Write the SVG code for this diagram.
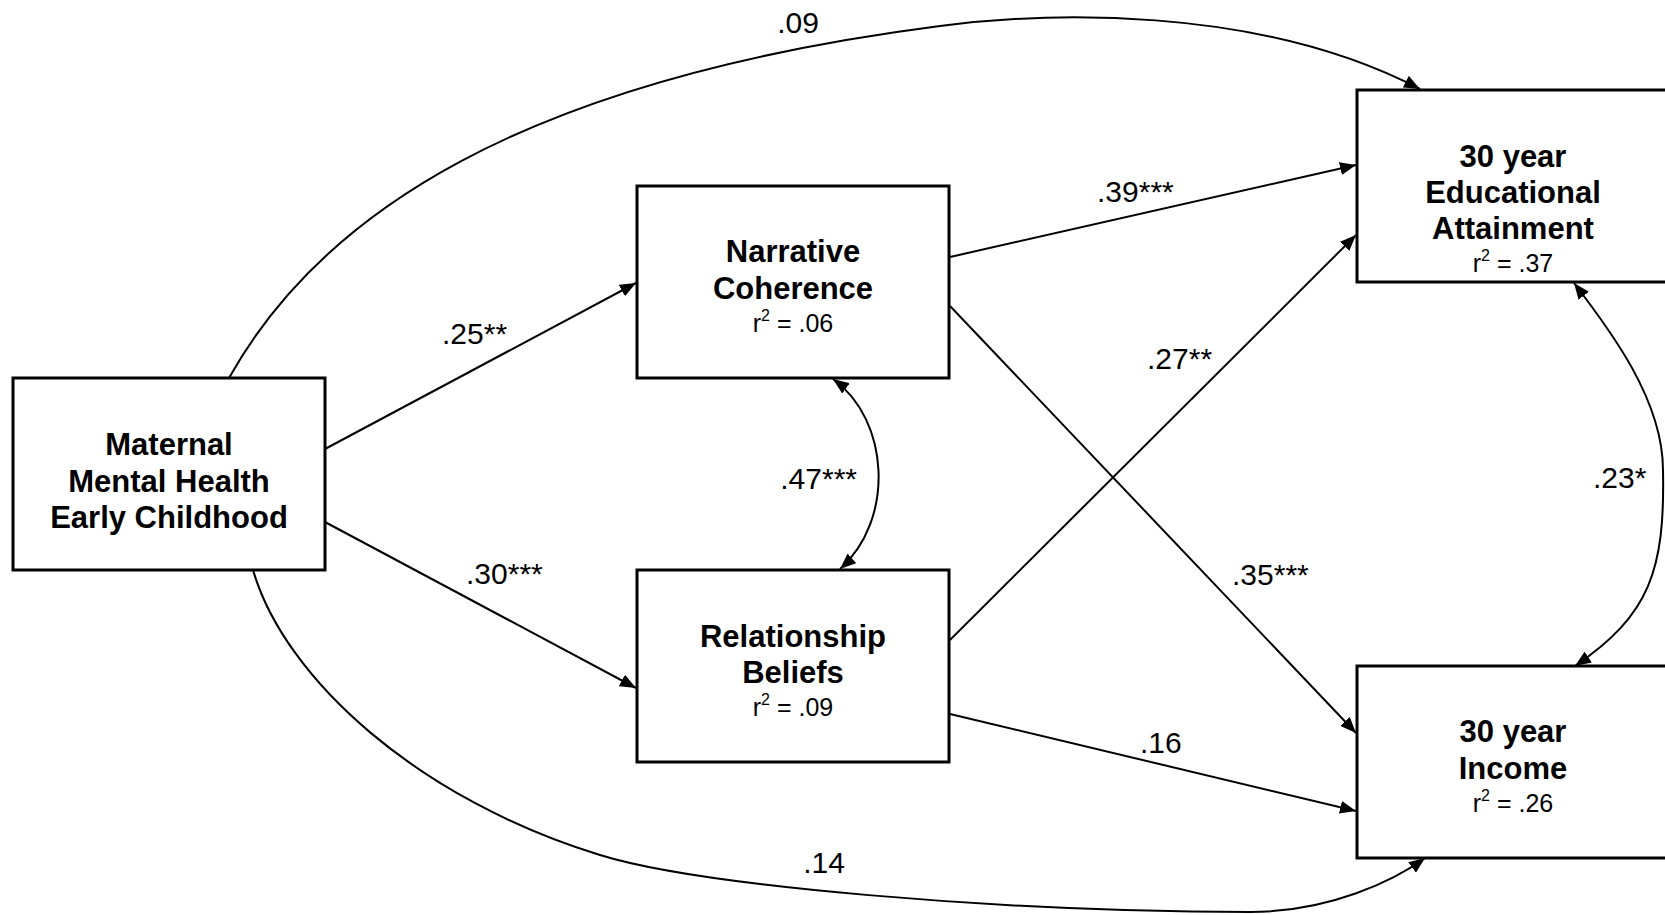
<svg xmlns="http://www.w3.org/2000/svg" width="1665" height="915" viewBox="0 0 1665 915">
<style>
.box{fill:#fff;stroke:#000;stroke-width:3}
.t{font-family:"Liberation Sans",Arial,sans-serif;font-weight:bold;font-size:31px;text-anchor:middle;fill:#000}
.r{font-family:"Liberation Sans",Arial,sans-serif;font-size:25px;text-anchor:middle;fill:#000}
.lbl{font-family:"Liberation Sans",Arial,sans-serif;font-size:30px;fill:#000}
.c{fill:none;stroke:#000;stroke-width:2}
</style>
<defs>
<marker id="ah" markerUnits="userSpaceOnUse" viewBox="0 0 16 13" refX="16" refY="6.5" markerWidth="16" markerHeight="13" orient="auto-start-reverse">
<path d="M0,0 L16,6.5 L0,13 z" fill="#000"/>
</marker>
</defs>
<rect width="1665" height="915" fill="#fff"/>
<g id="connectors">
<path class="c" d="M229,378 C320,215 520,80 940,26 C1040,13 1255,3 1420,89" marker-end="url(#ah)"/>
<path class="c" d="M253,570 C285,680 420,800 600,855 C700,886 1000,912 1250,912 C1330,912 1395,880 1425,858" marker-end="url(#ah)"/>
<line class="c" x1="325" y1="449" x2="636" y2="283" marker-end="url(#ah)"/>
<line class="c" x1="325" y1="522" x2="636" y2="688" marker-end="url(#ah)"/>
<line class="c" x1="950" y1="257" x2="1356" y2="165" marker-end="url(#ah)"/>
<line class="c" x1="950" y1="306" x2="1356" y2="733" marker-end="url(#ah)"/>
<line class="c" x1="950" y1="640" x2="1356" y2="235" marker-end="url(#ah)"/>
<line class="c" x1="950" y1="714" x2="1356" y2="811" marker-end="url(#ah)"/>
<path class="c" d="M833,379 C890,420 895,520 840,569" marker-start="url(#ah)" marker-end="url(#ah)"/>
<path class="c" d="M1574,283 C1610,330 1663,400 1663,470 C1665,570 1650,615 1575,666" marker-start="url(#ah)" marker-end="url(#ah)"/>
<text class="lbl" x="798" y="33" text-anchor="middle">.09</text>
<text class="lbl" x="442" y="344">.25**</text>
<text class="lbl" x="466" y="584">.30***</text>
<text class="lbl" x="824" y="873" text-anchor="middle">.14</text>
<text class="lbl" x="1097" y="202">.39***</text>
<text class="lbl" x="1147" y="369">.27**</text>
<text class="lbl" x="1232" y="585">.35***</text>
<text class="lbl" x="1140" y="753">.16</text>
<text class="lbl" x="857" y="489" text-anchor="end">.47***</text>
<text class="lbl" x="1593" y="488">.23*</text>
</g>
<g id="maternal">
<rect class="box" x="13" y="378" width="312" height="192"/>
<text class="t" x="169" y="455">Maternal</text>
<text class="t" x="169" y="492">Mental Health</text>
<text class="t" x="169" y="528">Early Childhood</text>
</g>
<g id="narrative">
<rect class="box" x="637" y="186" width="312" height="192"/>
<text class="t" x="793" y="262">Narrative</text>
<text class="t" x="793" y="299">Coherence</text>
<text class="r" x="793" y="332">r<tspan dy="-11" font-size="16">2</tspan><tspan dy="11"> = .06</tspan></text>
</g>
<g id="relationship">
<rect class="box" x="637" y="570" width="312" height="192"/>
<text class="t" x="793" y="647">Relationship</text>
<text class="t" x="793" y="683">Beliefs</text>
<text class="r" x="793" y="716">r<tspan dy="-11" font-size="16">2</tspan><tspan dy="11"> = .09</tspan></text>
</g>
<g id="education">
<rect class="box" x="1357" y="90" width="312" height="192"/>
<text class="t" x="1513" y="167">30 year</text>
<text class="t" x="1513" y="203">Educational</text>
<text class="t" x="1513" y="239">Attainment</text>
<text class="r" x="1513" y="272">r<tspan dy="-11" font-size="16">2</tspan><tspan dy="11"> = .37</tspan></text>
</g>
<g id="income">
<rect class="box" x="1357" y="666" width="312" height="192"/>
<text class="t" x="1513" y="742">30 year</text>
<text class="t" x="1513" y="779">Income</text>
<text class="r" x="1513" y="812">r<tspan dy="-11" font-size="16">2</tspan><tspan dy="11"> = .26</tspan></text>
</g>
</svg>
